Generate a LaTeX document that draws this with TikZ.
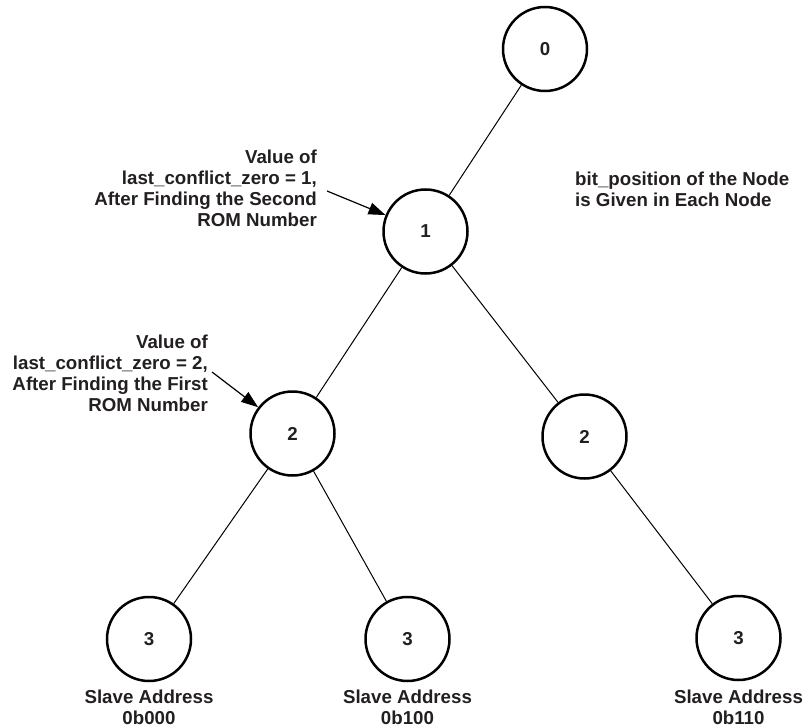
\documentclass[tikz,border=0pt]{standalone}
\usepackage{fontspec}
\setmainfont{Liberation Sans}
\usepackage{tikz}
\usetikzlibrary{arrows.meta, positioning}
\usepackage{xcolor}
\definecolor{inkgray}{RGB}{35,31,32}

\begin{document}
\begin{tikzpicture}
[x = 1pt, y = -1pt,
 bitnode/.style = {circle, draw=black, line width=2.5pt, minimum size=84pt, inner sep=0pt, text=inkgray, font=\bfseries\fontsize{18.7}{21}\selectfont},
 note/.style = {inner sep=0pt, text=inkgray, font=\bfseries\fontsize{18.7}{21}\selectfont},
 pointer/.style = {-{Triangle[length=17pt, width=12pt]}, line width=1.2pt},
 branch/.style = {line width=1pt}]
\useasboundingbox (0,0) rectangle (808,727);

\node[bitnode] (n0) at (545,49) {0};
\node[bitnode] (n1) at (425.5,231.5) {1};
\node[bitnode] (n2) at (292.5,433.5) {2};
\node[bitnode] (n3) at (584.5,436.5) {2};
\node[bitnode] (n4) at (149,639) {3};
\node[bitnode] (n5) at (407.5,639) {3};
\node[bitnode] (n6) at (738.5,638) {3};

\node[note, align=right, anchor=east] (c1) at (317,188.5) {Value of\\last\_conflict\_zero = 1,\\After Finding the Second\\ROM Number};
\node[note, align=right, anchor=east] (c2) at (208,373.5) {Value of\\last\_conflict\_zero = 2,\\After Finding the First\\ROM Number};
\node[note, align=left, anchor=west] (info) at (575,189.5) {bit\_position of the Node\\is Given in Each Node};

\node[note, align=center] (s1) at (149,707) {Slave Address\\0b000};
\node[note, align=center] (s2) at (407.5,707) {Slave Address\\0b100};
\node[note, align=center] (s3) at (738.5,707) {Slave Address\\0b110};

\coordinate (p1) at (327,191);
\coordinate (p2) at (212,372);

\draw[branch] (n0) -- (n1) (n1) -- (n2) (n1) -- (n3) (n2) -- (n4) (n2) -- (n5) (n3) -- (n6);
\draw[pointer] (p1) -- (n1);
\draw[pointer] (p2) -- (n2);

\end{tikzpicture}
\end{document}
